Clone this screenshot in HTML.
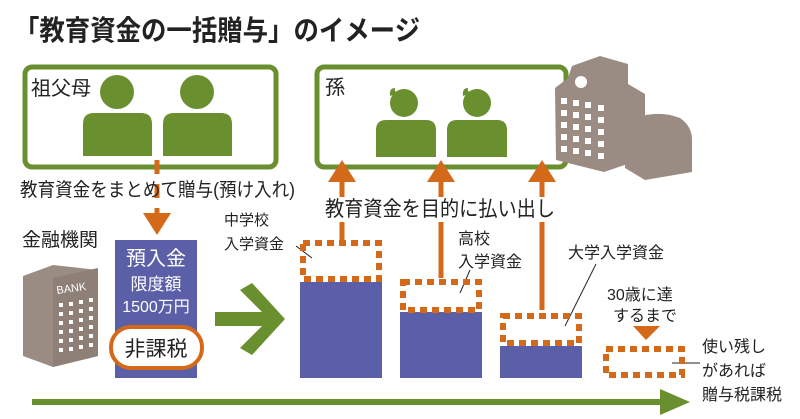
<!DOCTYPE html>
<html><head><meta charset="utf-8"><style>
html,body{margin:0;padding:0;background:#fff;}
svg{display:block;}
text{font-family:"Liberation Sans","Noto Sans CJK JP",sans-serif;fill:#222;}
</style></head><body>
<svg width="800" height="419" viewBox="0 0 800 419" xmlns="http://www.w3.org/2000/svg">
<text x="14" y="40" font-size="28" font-weight="bold" fill="#111" textLength="406" lengthAdjust="spacingAndGlyphs">「教育資金の一括贈与」のイメージ</text>

<!-- grandparents box -->
<rect x="25" y="67" width="251" height="100" rx="7" fill="#fff" stroke="#6a8f2f" stroke-width="5"/>
<text x="31" y="95" font-size="20">祖父母</text>
<circle cx="117" cy="92" r="17" fill="#6a8f2f"/>
<path d="M83 156 V124 Q83 113 94 113 H141 Q152 113 152 124 V156 Z" fill="#6a8f2f"/>
<circle cx="197" cy="92" r="17" fill="#6a8f2f"/>
<path d="M163 156 V124 Q163 113 174 113 H221 Q232 113 232 124 V156 Z" fill="#6a8f2f"/>

<!-- grandchildren box -->
<rect x="317" y="67" width="249" height="100" rx="7" fill="#fff" stroke="#6a8f2f" stroke-width="5"/>
<text x="325" y="94" font-size="20">孫</text>
<circle cx="404" cy="103" r="14" fill="#6a8f2f"/>
<path d="M390 96 Q389 88 395 88 Q394 92 398 93 Z" fill="#6a8f2f"/>
<path d="M376 157 V130 Q376 120 386 120 H426 Q436 120 436 130 V157 Z" fill="#6a8f2f"/>
<circle cx="477" cy="103" r="14" fill="#6a8f2f"/>
<path d="M463 96 Q462 88 468 88 Q467 92 471 93 Z" fill="#6a8f2f"/>
<path d="M447 157 V130 Q447 120 457 120 H497 Q507 120 507 130 V157 Z" fill="#6a8f2f"/>

<!-- school building -->
<path d="M625 122 Q655 108 680 118 Q692 126 692 140 V172 L645 180 L625 168 Z" fill="#9a8b83"/>
<path d="M555 88 L568 78 L572 66 L600 56 L628 64 L628 84 L645 94 L645 158 L604 172 L556 160 Z" fill="#9a8b83"/>
<circle cx="581" cy="82" r="6" fill="#fff"/>
<g fill="#fff">
<rect x="561" y="98" width="6" height="6"/><rect x="573" y="100" width="6" height="6"/><rect x="585" y="102" width="6" height="6"/><rect x="598" y="105" width="6" height="6"/>
<rect x="561" y="110" width="6" height="6"/><rect x="573" y="112" width="6" height="6"/><rect x="585" y="114" width="6" height="6"/><rect x="598" y="117" width="6" height="6"/>
<rect x="561" y="122" width="6" height="6"/><rect x="573" y="124" width="6" height="6"/><rect x="585" y="126" width="6" height="6"/><rect x="598" y="129" width="6" height="6"/>
<rect x="561" y="134" width="6" height="6"/><rect x="573" y="136" width="6" height="6"/><rect x="585" y="138" width="6" height="6"/><rect x="598" y="141" width="6" height="6"/>
<rect x="561" y="146" width="6" height="6"/><rect x="573" y="148" width="6" height="6"/><rect x="585" y="150" width="6" height="6"/><rect x="598" y="153" width="6" height="6"/>
</g>

<!-- deposit arrow -->
<line x1="157" y1="160" x2="157" y2="218" stroke="#d4691a" stroke-width="5" stroke-dasharray="14,10"/>
<text x="20" y="196" font-size="19" textLength="275" lengthAdjust="spacingAndGlyphs">教育資金をまとめて贈与(預け入れ)</text>
<polygon points="143,213 171,213 157,235" fill="#d4691a"/>

<!-- up arrows -->
<g stroke="#d4691a" stroke-width="5">
<line x1="342" y1="178" x2="342" y2="197"/><line x1="342" y1="222" x2="342" y2="240"/>
<line x1="441" y1="178" x2="441" y2="197"/><line x1="441" y1="222" x2="441" y2="278"/>
<line x1="542" y1="178" x2="542" y2="197"/><line x1="542" y1="222" x2="542" y2="310"/>
</g>
<g fill="#d4691a">
<polygon points="328,182 356,182 342,160"/>
<polygon points="427,182 455,182 441,160"/>
<polygon points="528,182 556,182 542,160"/>
</g>
<text x="325" y="216" font-size="21" textLength="230" lengthAdjust="spacingAndGlyphs">教育資金を目的に払い出し</text>

<!-- labels -->
<text x="22" y="246" font-size="19">金融機関</text>
<text x="224" y="225" font-size="15">中学校</text>
<text x="224" y="249" font-size="15">入学資金</text>
<line x1="296" y1="246" x2="312" y2="258" stroke="#222" stroke-width="1"/>
<text x="458" y="244" font-size="16">高校</text>
<text x="458" y="267" font-size="16">入学資金</text>
<line x1="470" y1="270" x2="460" y2="293" stroke="#222" stroke-width="1"/>
<text x="568" y="258" font-size="16">大学入学資金</text>
<line x1="596" y1="264" x2="565" y2="326" stroke="#222" stroke-width="1"/>
<text x="607" y="300" font-size="16">30歳に達</text>
<text x="613" y="321" font-size="16">するまで</text>
<polygon points="633,326 660,326 646,340" fill="#d4691a"/>
<text x="702" y="352" font-size="16">使い残し</text>
<text x="702" y="376" font-size="16">があれば</text>
<text x="702" y="400" font-size="16">贈与税課税</text>
<line x1="672" y1="363" x2="700" y2="363" stroke="#222" stroke-width="1"/>

<!-- bank -->
<polygon points="23,276 53,265 98,270 98,356 53,367 23,356" fill="#9a8b83"/>
<polygon points="53,278 98,268 98,356 53,367" fill="#8e7f77"/>
<text x="57" y="294" font-size="11" style="fill:#fff" transform="rotate(-8 57 294)">BANK</text>
<g fill="#fff">
<rect x="59" y="303" width="4" height="4"/><rect x="69" y="302" width="4" height="4"/><rect x="79" y="300" width="4" height="4"/><rect x="89" y="298" width="4" height="4"/>
<rect x="59" y="312" width="4" height="4"/><rect x="69" y="311" width="4" height="4"/><rect x="79" y="309" width="4" height="4"/><rect x="89" y="307" width="4" height="4"/>
<rect x="59" y="321" width="4" height="4"/><rect x="69" y="320" width="4" height="4"/><rect x="79" y="318" width="4" height="4"/><rect x="89" y="316" width="4" height="4"/>
<rect x="59" y="330" width="4" height="4"/><rect x="69" y="329" width="4" height="4"/><rect x="79" y="327" width="4" height="4"/><rect x="89" y="325" width="4" height="4"/>
<rect x="59" y="339" width="4" height="4"/><rect x="69" y="338" width="4" height="4"/><rect x="79" y="336" width="4" height="4"/><rect x="89" y="334" width="4" height="4"/>
<rect x="59" y="348" width="4" height="4"/><rect x="69" y="347" width="4" height="4"/><rect x="79" y="345" width="4" height="4"/><rect x="89" y="343" width="4" height="4"/>
</g>

<!-- deposit -->
<rect x="115" y="240" width="82" height="138" fill="#5a5fa8"/>
<text x="156" y="265" font-size="20" text-anchor="middle" style="fill:#fff">預入金</text>
<text x="156" y="290" font-size="17" text-anchor="middle" style="fill:#fff">限度額</text>
<text x="156" y="312" font-size="16" text-anchor="middle" style="fill:#fff">1500万円</text>
<rect x="111" y="327" width="91" height="41" rx="20" fill="#fff" stroke="#d4691a" stroke-width="4"/>
<text x="156" y="356" font-size="21" text-anchor="middle">非課税</text>

<!-- green chevron arrow -->
<polygon points="215,312 262,312 240,290 252,283 285,319 252,355 240,348 262,326 215,326" fill="#6a8f2f"/>

<!-- bars -->
<rect x="300" y="282" width="82" height="96" fill="#5a5fa8"/>
<rect x="400" y="312" width="82" height="66" fill="#5a5fa8"/>
<rect x="500" y="346" width="82" height="32" fill="#5a5fa8"/>
<g fill="none" stroke="#d4691a" stroke-width="6" stroke-dasharray="7,5">
<rect x="303" y="243" width="76" height="36"/>
<rect x="403" y="282" width="76" height="28"/>
<rect x="503" y="316" width="76" height="27"/>
<rect x="606" y="349" width="76" height="26"/>
</g>

<!-- timeline -->
<rect x="32" y="399" width="630" height="6" fill="#6a8f2f"/>
<polygon points="660,389 690,402 660,415" fill="#6a8f2f"/>
</svg>
</body></html>
